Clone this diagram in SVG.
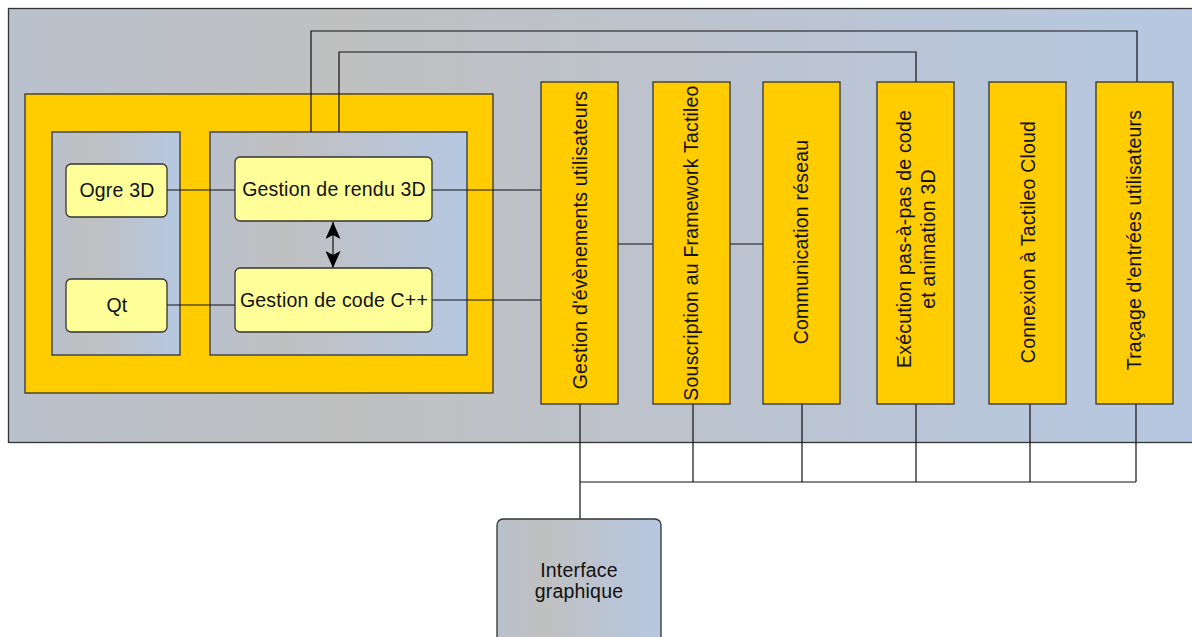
<svg xmlns="http://www.w3.org/2000/svg" width="1192" height="637" viewBox="0 0 1192 637">
<defs>
<linearGradient id="gb" x1="0" y1="0" x2="1" y2="0">
<stop offset="0" stop-color="#b9c1cd"/>
<stop offset="0.28" stop-color="#c0c0c0"/>
<stop offset="1" stop-color="#b6c8e2"/>
</linearGradient>
<marker id="ah" viewBox="0 0 17 15" markerWidth="17" markerHeight="15" refX="17" refY="7.5" orient="auto-start-reverse" markerUnits="userSpaceOnUse">
<path d="M0,0 L17,7.5 L0,15 L4,7.5 Z" fill="#000"/>
</marker>
<style>
.grp{fill:url(#gb);stroke:#333;stroke-width:1.3}
.org{fill:#ffcc00;stroke:#333;stroke-width:1.3}
.yel{fill:#ffff99;stroke:#333;stroke-width:1.3}
.t{font-family:"Liberation Sans",Arial,sans-serif;font-size:19.5px;letter-spacing:0.2px;fill:#111;text-anchor:middle}
.c{fill:none;stroke:#111;stroke-width:1.2}
</style>
</defs>
<g id="container"><rect class="grp" x="8.5" y="8.5" width="1200" height="434"/></g>
<g id="module-3d"><rect class="org" x="25" y="94" width="468" height="299"/></g>
<g id="libs"><rect class="grp" x="52" y="132" width="128" height="223"/></g>
<g id="core"><rect class="grp" x="210" y="132" width="257" height="223"/></g>
<g id="connectors">
<path class="c" d="M167,190 H235 M167,305 H235 M432,190 H541 M432,300 H541"/>
<path class="c" d="M311,132 V31 H1137 V82 M339,132 V52 H916 V82"/>
<path class="c" d="M618,244 H653 M730,244 H763"/>
<path class="c" d="M580,404 V519 M693,404 V482 M802,404 V482 M916,404 V482 M1030,404 V482 M1136,404 V482 M580,482 H1136"/>
<line class="c" x1="333" y1="222" x2="333" y2="268" marker-start="url(#ah)" marker-end="url(#ah)"/>
</g>
<g id="ogre"><rect class="yel" x="66" y="164" width="101" height="53" rx="5"/><text class="t" x="117" y="197">Ogre 3D</text></g>
<g id="qt"><rect class="yel" x="66" y="279" width="101" height="53" rx="5"/><text class="t" x="117" y="312">Qt</text></g>
<g id="rendu"><rect class="yel" x="235" y="157" width="197" height="64" rx="5"/><text class="t" x="334" y="196">Gestion de rendu 3D</text></g>
<g id="code"><rect class="yel" x="235" y="268" width="197" height="64" rx="5"/><text class="t" x="334" y="307">Gestion de code C++</text></g>
<g id="evenements"><rect class="org" x="541" y="82" width="77" height="322"/><text class="t" transform="translate(587,240) rotate(-90)">Gestion d'évènements utilisateurs</text></g>
<g id="souscription"><rect class="org" x="653" y="82" width="77" height="322"/><text class="t" transform="translate(698,243) rotate(-90)">Souscription au Framework Tactileo</text></g>
<g id="communication"><rect class="org" x="763" y="82" width="77" height="322"/><text class="t" transform="translate(808,242) rotate(-90)">Communication réseau</text></g>
<g id="execution"><rect class="org" x="877" y="82" width="77" height="322"/><text class="t" transform="translate(911,239) rotate(-90)">Exécution pas-à-pas de code</text><text class="t" transform="translate(935,239) rotate(-90)">et animation 3D</text></g>
<g id="cloud"><rect class="org" x="989" y="82" width="77" height="322"/><text class="t" transform="translate(1035,242) rotate(-90)">Connexion à Tactileo Cloud</text></g>
<g id="tracage"><rect class="org" x="1096" y="82" width="77" height="322"/><text class="t" transform="translate(1141,240) rotate(-90)">Traçage d'entrées utilisateurs</text></g>
<g id="interface"><rect class="grp" x="497" y="519" width="164" height="130" rx="6"/><text class="t" x="579" y="577">Interface</text><text class="t" x="579" y="598">graphique</text></g>
</svg>
